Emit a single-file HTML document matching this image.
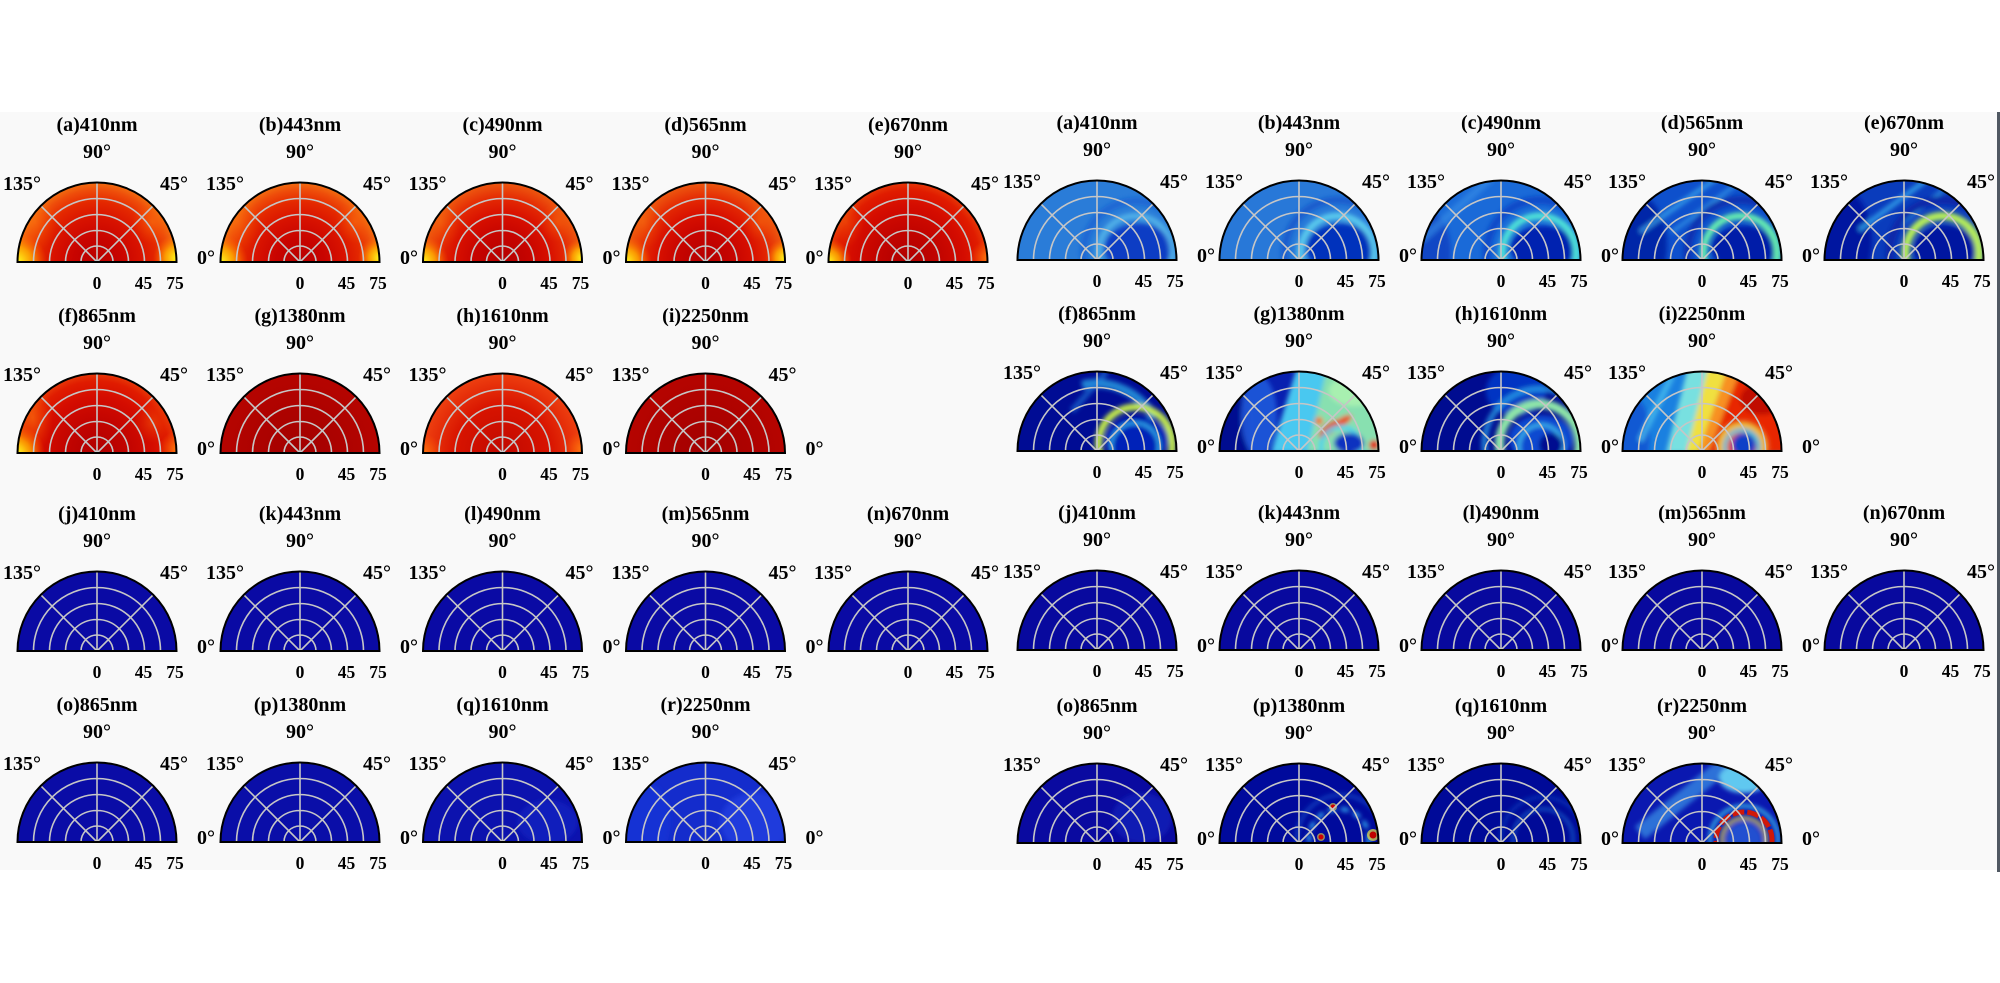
<!DOCTYPE html>
<html>
<head>
<meta charset="utf-8">
<style>
html,body{margin:0;padding:0;background:#fff}
svg{display:block}
text{font-family:"Liberation Serif","Times New Roman",serif;font-weight:bold;font-size:20px;text-anchor:middle;dominant-baseline:central;fill:#000}
.k{font-size:17.5px}
</style>
</head>
<body>
<svg width="2000" height="983" viewBox="0 0 2000 983" xmlns="http://www.w3.org/2000/svg">
<defs>
<path id="S" d="M-79.5,0A79.5,79.5 0 0 1 79.5,0Z"/>
<clipPath id="sc"><path d="M-79.5,0A79.5,79.5 0 0 1 79.5,0Z"/></clipPath>
<g id="G">
<path d="M-16,0A16,16 0 0 1 16,0M-31.5,0A31.5,31.5 0 0 1 31.5,0M-47.5,0A47.5,47.5 0 0 1 47.5,0M-63.5,0A63.5,63.5 0 0 1 63.5,0M0,0L0,-79.5M0,0L56.2,-56.2M0,0L-56.2,-56.2" fill="none" stroke="#c6c6c6" stroke-width="1.6"/>
<path d="M-79.5,0A79.5,79.5 0 0 1 79.5,0Z" fill="none" stroke="#000" stroke-width="2"/>
</g>
<filter id="bl" x="-30%" y="-30%" width="160%" height="160%"><feGaussianBlur stdDeviation="2.5"/></filter>
<radialGradient id="r1" gradientUnits="userSpaceOnUse" cx="0" cy="0" r="80">
<stop offset="0" stop-color="#b80000"/><stop offset=".3" stop-color="#c80400"/><stop offset=".55" stop-color="#d81200"/><stop offset=".75" stop-color="#e42800"/><stop offset=".9" stop-color="#ee4c0a"/><stop offset="1" stop-color="#f27010"/>
</radialGradient>
<radialGradient id="r2" gradientUnits="userSpaceOnUse" cx="0" cy="0" r="80">
<stop offset="0" stop-color="#b40000"/><stop offset=".35" stop-color="#c60400"/><stop offset=".6" stop-color="#d81000"/><stop offset=".8" stop-color="#e42a04"/><stop offset="1" stop-color="#ee5a10"/>
</radialGradient>
<radialGradient id="r3" gradientUnits="userSpaceOnUse" cx="0" cy="0" r="80">
<stop offset="0" stop-color="#b00000"/><stop offset=".4" stop-color="#c20400"/><stop offset=".7" stop-color="#d40c00"/><stop offset=".9" stop-color="#e01c00"/><stop offset="1" stop-color="#e83a08"/>
</radialGradient>
<radialGradient id="r4" gradientUnits="userSpaceOnUse" cx="0" cy="0" r="80">
<stop offset="0" stop-color="#c00800"/><stop offset=".6" stop-color="#d81400"/><stop offset="1" stop-color="#ee4010"/>
</radialGradient>
<radialGradient id="rd" gradientUnits="userSpaceOnUse" cx="0" cy="0" r="80">
<stop offset="0" stop-color="#a20000"/><stop offset="1" stop-color="#b60400"/>
</radialGradient>
<radialGradient id="gy"><stop offset="0" stop-color="#ffff20"/><stop offset=".5" stop-color="#ffb000" stop-opacity=".8"/><stop offset="1" stop-color="#ff6000" stop-opacity="0"/></radialGradient>
<radialGradient id="go"><stop offset="0" stop-color="#ff8010" stop-opacity=".9"/><stop offset="1" stop-color="#ff6000" stop-opacity="0"/></radialGradient>
</defs>

<rect x="0" y="112" width="1997" height="758" fill="#f9f9f9"/>
<rect x="1997" y="112" width="3" height="760" fill="#505862"/>

<!-- ========== LEFT PANEL ========== -->
<g transform="translate(97,262)">
<g clip-path="url(#sc)"><use href="#S" fill="url(#r1)"/>
<circle cx="-80" cy="0" r="30" fill="url(#gy)"/><circle cx="80" cy="-4" r="24" fill="url(#gy)"/><ellipse cx="-62" cy="-40" rx="22" ry="30" fill="url(#go)" opacity=".5"/><ellipse cx="55" cy="-40" rx="20" ry="22" fill="url(#go)" opacity=".5"/></g>
<use href="#G"/>
<text y="-137">(a)410nm</text><text y="-110">90°</text><text x="-75" y="-78">135°</text><text x="77" y="-78">45°</text><text x="109" y="-4">0°</text><text class="k" y="21">0</text><text class="k" x="46.5" y="21">45</text><text class="k" x="78" y="21">75</text>
</g>
<g transform="translate(300,262)">
<g clip-path="url(#sc)"><use href="#S" fill="url(#r1)"/>
<circle cx="-80" cy="0" r="28" fill="url(#gy)"/><circle cx="80" cy="-4" r="22" fill="url(#gy)"/><ellipse cx="-62" cy="-40" rx="22" ry="30" fill="url(#go)" opacity=".45"/><ellipse cx="55" cy="-40" rx="20" ry="22" fill="url(#go)" opacity=".45"/></g>
<use href="#G"/>
<text y="-137">(b)443nm</text><text y="-110">90°</text><text x="-75" y="-78">135°</text><text x="77" y="-78">45°</text><text x="109" y="-4">0°</text><text class="k" y="21">0</text><text class="k" x="46.5" y="21">45</text><text class="k" x="78" y="21">75</text>
</g>
<g transform="translate(502.5,262)">
<g clip-path="url(#sc)"><use href="#S" fill="url(#r2)"/>
<circle cx="-80" cy="0" r="26" fill="url(#gy)"/><circle cx="80" cy="-4" r="20" fill="url(#gy)"/><ellipse cx="-62" cy="-40" rx="20" ry="28" fill="url(#go)" opacity=".4"/><ellipse cx="55" cy="-40" rx="18" ry="20" fill="url(#go)" opacity=".4"/></g>
<use href="#G"/>
<text y="-137">(c)490nm</text><text y="-110">90°</text><text x="-75" y="-78">135°</text><text x="77" y="-78">45°</text><text x="109" y="-4">0°</text><text class="k" y="21">0</text><text class="k" x="46.5" y="21">45</text><text class="k" x="78" y="21">75</text>
</g>
<g transform="translate(705.5,262)">
<g clip-path="url(#sc)"><use href="#S" fill="url(#r2)"/>
<circle cx="-80" cy="0" r="26" fill="url(#gy)"/><circle cx="80" cy="-4" r="20" fill="url(#gy)"/><ellipse cx="-62" cy="-40" rx="20" ry="28" fill="url(#go)" opacity=".4"/><ellipse cx="55" cy="-40" rx="18" ry="20" fill="url(#go)" opacity=".4"/></g>
<use href="#G"/>
<text y="-137">(d)565nm</text><text y="-110">90°</text><text x="-75" y="-78">135°</text><text x="77" y="-78">45°</text><text x="109" y="-4">0°</text><text class="k" y="21">0</text><text class="k" x="46.5" y="21">45</text><text class="k" x="78" y="21">75</text>
</g>
<g transform="translate(908,262)">
<g clip-path="url(#sc)"><use href="#S" fill="url(#r3)"/>
<circle cx="-80" cy="0" r="24" fill="url(#gy)"/><circle cx="80" cy="-4" r="18" fill="url(#go)"/><ellipse cx="-62" cy="-40" rx="18" ry="26" fill="url(#go)" opacity=".35"/></g>
<use href="#G"/>
<text y="-137">(e)670nm</text><text y="-110">90°</text><text x="-75" y="-78">135°</text><text x="77" y="-78">45°</text><text class="k" y="21">0</text><text class="k" x="46.5" y="21">45</text><text class="k" x="78" y="21">75</text>
</g>

<g transform="translate(97,453)">
<g clip-path="url(#sc)"><use href="#S" fill="url(#r3)"/>
<circle cx="-80" cy="0" r="28" fill="url(#gy)"/><circle cx="80" cy="-4" r="18" fill="url(#go)"/><ellipse cx="-64" cy="-35" rx="20" ry="34" fill="url(#go)" opacity=".6"/><ellipse cx="55" cy="-30" rx="18" ry="20" fill="url(#go)" opacity=".35"/></g>
<use href="#G"/>
<text y="-137">(f)865nm</text><text y="-110">90°</text><text x="-75" y="-78">135°</text><text x="77" y="-78">45°</text><text x="109" y="-4">0°</text><text class="k" y="21">0</text><text class="k" x="46.5" y="21">45</text><text class="k" x="78" y="21">75</text>
</g>
<g transform="translate(300,453)">
<g clip-path="url(#sc)"><use href="#S" fill="url(#rd)"/></g>
<use href="#G"/>
<text y="-137">(g)1380nm</text><text y="-110">90°</text><text x="-75" y="-78">135°</text><text x="77" y="-78">45°</text><text x="109" y="-4">0°</text><text class="k" y="21">0</text><text class="k" x="46.5" y="21">45</text><text class="k" x="78" y="21">75</text>
</g>
<g transform="translate(502.5,453)">
<g clip-path="url(#sc)"><use href="#S" fill="url(#r4)"/>
<circle cx="-80" cy="0" r="20" fill="url(#go)"/><circle cx="80" cy="-4" r="18" fill="url(#go)"/></g>
<use href="#G"/>
<text y="-137">(h)1610nm</text><text y="-110">90°</text><text x="-75" y="-78">135°</text><text x="77" y="-78">45°</text><text x="109" y="-4">0°</text><text class="k" y="21">0</text><text class="k" x="46.5" y="21">45</text><text class="k" x="78" y="21">75</text>
</g>
<g transform="translate(705.5,453)">
<g clip-path="url(#sc)"><use href="#S" fill="url(#rd)"/></g>
<use href="#G"/>
<text y="-137">(i)2250nm</text><text y="-110">90°</text><text x="-75" y="-78">135°</text><text x="77" y="-78">45°</text><text x="109" y="-4">0°</text><text class="k" y="21">0</text><text class="k" x="46.5" y="21">45</text><text class="k" x="78" y="21">75</text>
</g>

<g transform="translate(97,651)">
<use href="#S" fill="#0a0aa4"/><use href="#G"/>
<text y="-137">(j)410nm</text><text y="-110">90°</text><text x="-75" y="-78">135°</text><text x="77" y="-78">45°</text><text x="109" y="-4">0°</text><text class="k" y="21">0</text><text class="k" x="46.5" y="21">45</text><text class="k" x="78" y="21">75</text>
</g>
<g transform="translate(300,651)">
<use href="#S" fill="#0a0aa4"/><use href="#G"/>
<text y="-137">(k)443nm</text><text y="-110">90°</text><text x="-75" y="-78">135°</text><text x="77" y="-78">45°</text><text x="109" y="-4">0°</text><text class="k" y="21">0</text><text class="k" x="46.5" y="21">45</text><text class="k" x="78" y="21">75</text>
</g>
<g transform="translate(502.5,651)">
<use href="#S" fill="#0a0aa4"/><use href="#G"/>
<text y="-137">(l)490nm</text><text y="-110">90°</text><text x="-75" y="-78">135°</text><text x="77" y="-78">45°</text><text x="109" y="-4">0°</text><text class="k" y="21">0</text><text class="k" x="46.5" y="21">45</text><text class="k" x="78" y="21">75</text>
</g>
<g transform="translate(705.5,651)">
<use href="#S" fill="#0a0aa4"/><use href="#G"/>
<text y="-137">(m)565nm</text><text y="-110">90°</text><text x="-75" y="-78">135°</text><text x="77" y="-78">45°</text><text x="109" y="-4">0°</text><text class="k" y="21">0</text><text class="k" x="46.5" y="21">45</text><text class="k" x="78" y="21">75</text>
</g>
<g transform="translate(908,651)">
<use href="#S" fill="#0a0aa4"/><use href="#G"/>
<text y="-137">(n)670nm</text><text y="-110">90°</text><text x="-75" y="-78">135°</text><text x="77" y="-78">45°</text><text class="k" y="21">0</text><text class="k" x="46.5" y="21">45</text><text class="k" x="78" y="21">75</text>
</g>

<g transform="translate(97,842)">
<use href="#S" fill="#0a0ca6"/><use href="#G"/>
<text y="-137">(o)865nm</text><text y="-110">90°</text><text x="-75" y="-78">135°</text><text x="77" y="-78">45°</text><text x="109" y="-4">0°</text><text class="k" y="21">0</text><text class="k" x="46.5" y="21">45</text><text class="k" x="78" y="21">75</text>
</g>
<g transform="translate(300,842)">
<use href="#S" fill="#0a0ea8"/><use href="#G"/>
<text y="-137">(p)1380nm</text><text y="-110">90°</text><text x="-75" y="-78">135°</text><text x="77" y="-78">45°</text><text x="109" y="-4">0°</text><text class="k" y="21">0</text><text class="k" x="46.5" y="21">45</text><text class="k" x="78" y="21">75</text>
</g>
<g transform="translate(502.5,842)">
<g clip-path="url(#sc)"><use href="#S" fill="#0c12ae"/><g filter="url(#bl)"><ellipse cx="45" cy="-20" rx="30" ry="22" fill="#1424c4" opacity=".6"/></g></g>
<use href="#G"/>
<text y="-137">(q)1610nm</text><text y="-110">90°</text><text x="-75" y="-78">135°</text><text x="77" y="-78">45°</text><text x="109" y="-4">0°</text><text class="k" y="21">0</text><text class="k" x="46.5" y="21">45</text><text class="k" x="78" y="21">75</text>
</g>
<g transform="translate(705.5,842)">
<g clip-path="url(#sc)"><use href="#S" fill="#142ccc"/><g filter="url(#bl)"><ellipse cx="50" cy="-20" rx="35" ry="30" fill="#2444e6" opacity=".6"/><ellipse cx="-60" cy="-20" rx="25" ry="40" fill="#1a38dc" opacity=".5"/></g></g>
<use href="#G"/>
<text y="-137">(r)2250nm</text><text y="-110">90°</text><text x="-75" y="-78">135°</text><text x="77" y="-78">45°</text><text x="109" y="-4">0°</text><text class="k" y="21">0</text><text class="k" x="46.5" y="21">45</text><text class="k" x="78" y="21">75</text>
</g>

<!-- ========== RIGHT PANEL ========== -->
<g transform="translate(1097,260)">
<g clip-path="url(#sc)"><use href="#S" fill="#2a7cd8"/>
<g filter="url(#bl)">
<ellipse cx="42" cy="-12" rx="34" ry="24" fill="#0a3cc4"/>
<circle cx="38.5" cy="-7" r="52" fill="none" stroke="#1858d0" stroke-width="7" opacity=".6"/>
<circle cx="38.5" cy="-7" r="37" fill="none" stroke="#60c4ee" stroke-width="6" opacity=".75"/>
</g></g>
<use href="#G"/>
<text y="-137">(a)410nm</text><text y="-110">90°</text><text x="-75" y="-78">135°</text><text x="77" y="-78">45°</text><text x="109" y="-4">0°</text><text class="k" y="21">0</text><text class="k" x="46.5" y="21">45</text><text class="k" x="78" y="21">75</text>
</g>
<g transform="translate(1299,260)">
<g clip-path="url(#sc)"><use href="#S" fill="#2878d8"/>
<g filter="url(#bl)">
<ellipse cx="42" cy="-12" rx="34" ry="24" fill="#0430bc"/>
<circle cx="38.5" cy="-7" r="53" fill="none" stroke="#1450c8" stroke-width="7" opacity=".7"/>
<circle cx="38.5" cy="-7" r="37" fill="none" stroke="#60d4f0" stroke-width="7" opacity=".9"/>
</g></g>
<use href="#G"/>
<text y="-137">(b)443nm</text><text y="-110">90°</text><text x="-75" y="-78">135°</text><text x="77" y="-78">45°</text><text x="109" y="-4">0°</text><text class="k" y="21">0</text><text class="k" x="46.5" y="21">45</text><text class="k" x="78" y="21">75</text>
</g>
<g transform="translate(1501,260)">
<g clip-path="url(#sc)"><use href="#S" fill="#1a6ad8"/>
<g filter="url(#bl)">
<ellipse cx="-72" cy="-8" rx="22" ry="40" fill="#0a40c0" opacity=".8"/>
<line x1="-10" y1="-82" x2="-80" y2="-20" stroke="#3a90e8" stroke-width="8" opacity=".6"/>
<ellipse cx="42" cy="-12" rx="32" ry="22" fill="#0424b0"/>
<circle cx="38.5" cy="-7" r="53" fill="none" stroke="#0c48c8" stroke-width="8"/>
<circle cx="38.5" cy="-7" r="37" fill="none" stroke="#50e4d8" stroke-width="7"/>
</g></g>
<use href="#G"/>
<text y="-137">(c)490nm</text><text y="-110">90°</text><text x="-75" y="-78">135°</text><text x="77" y="-78">45°</text><text x="109" y="-4">0°</text><text class="k" y="21">0</text><text class="k" x="46.5" y="21">45</text><text class="k" x="78" y="21">75</text>
</g>
<g transform="translate(1702,260)">
<g clip-path="url(#sc)"><use href="#S" fill="#0e50cc"/>
<g filter="url(#bl)">
<ellipse cx="-65" cy="-15" rx="30" ry="50" fill="#0428a8"/>
<line x1="15" y1="-82" x2="-62" y2="-28" stroke="#40b0f0" stroke-width="5" opacity=".7"/>
<line x1="35" y1="-76" x2="-30" y2="-28" stroke="#40b0f0" stroke-width="4" opacity=".6"/>
<ellipse cx="42" cy="-12" rx="32" ry="22" fill="#001ca8"/>
<circle cx="38.5" cy="-7" r="53" fill="none" stroke="#0a30b0" stroke-width="8"/>
<circle cx="38.5" cy="-7" r="37" fill="none" stroke="#68f0b0" stroke-width="7"/>
</g></g>
<use href="#G"/>
<text y="-137">(d)565nm</text><text y="-110">90°</text><text x="-75" y="-78">135°</text><text x="77" y="-78">45°</text><text x="109" y="-4">0°</text><text class="k" y="21">0</text><text class="k" x="46.5" y="21">45</text><text class="k" x="78" y="21">75</text>
</g>
<g transform="translate(1904,260)">
<g clip-path="url(#sc)"><use href="#S" fill="#0a3cbc"/>
<g filter="url(#bl)">
<ellipse cx="-62" cy="-20" rx="30" ry="50" fill="#0018a0"/>
<line x1="25" y1="-82" x2="-45" y2="-30" stroke="#38b0f0" stroke-width="5" opacity=".8"/>
<line x1="45" y1="-75" x2="-10" y2="-30" stroke="#38b0f0" stroke-width="4" opacity=".6"/>
<ellipse cx="42" cy="-12" rx="32" ry="22" fill="#0018a0"/>
<circle cx="38.5" cy="-7" r="53" fill="none" stroke="#0828a8" stroke-width="8"/>
<circle cx="38.5" cy="-7" r="37" fill="none" stroke="#b8f058" stroke-width="8"/>
</g></g>
<use href="#G"/>
<text y="-137">(e)670nm</text><text y="-110">90°</text><text x="-75" y="-78">135°</text><text x="77" y="-78">45°</text><text class="k" y="21">0</text><text class="k" x="46.5" y="21">45</text><text class="k" x="78" y="21">75</text>
</g>

<g transform="translate(1097,451)">
<g clip-path="url(#sc)"><use href="#S" fill="#000c94"/>
<g filter="url(#bl)">
<path d="M-15,-66A66,66 0 0 1 57,-33" fill="none" stroke="#30b8f0" stroke-width="9" opacity=".7"/>
<line x1="10" y1="-80" x2="-25" y2="-40" stroke="#2080e0" stroke-width="6" opacity=".6"/>
<ellipse cx="40" cy="-12" rx="32" ry="22" fill="#0020b8"/>
<circle cx="38.5" cy="-7" r="37" fill="none" stroke="#c8f048" stroke-width="7"/>
<circle cx="38" cy="-4" r="24" fill="none" stroke="#30b0f0" stroke-width="3"/>
</g></g>
<use href="#G"/>
<text y="-137">(f)865nm</text><text y="-110">90°</text><text x="-75" y="-78">135°</text><text x="77" y="-78">45°</text><text x="109" y="-4">0°</text><text class="k" y="21">0</text><text class="k" x="46.5" y="21">45</text><text class="k" x="78" y="21">75</text>
</g>
<g transform="translate(1299,451)">
<g clip-path="url(#sc)"><use href="#S" fill="#0820b0"/>
<g filter="url(#bl)">
<ellipse cx="-72" cy="-20" rx="22" ry="60" fill="#000c90"/>
<ellipse cx="-40" cy="-35" rx="18" ry="40" fill="#2060e0" opacity=".8"/>
<polygon points="-28,2 8,2 28,-84 -2,-84" fill="#48c8f0"/>
<polygon points="8,2 84,2 84,-84 28,-84" fill="#88e0b0"/>
<ellipse cx="55" cy="-60" rx="25" ry="15" fill="#a8f0b0"/>
<ellipse cx="30" cy="-22" rx="13" ry="5" transform="rotate(-40 30 -22)" fill="#e04010"/>
<ellipse cx="44" cy="-30" rx="10" ry="4" transform="rotate(-30 44 -30)" fill="#e85020"/>
<circle cx="20" cy="-30" r="4" fill="#f07020"/>
<circle cx="42" cy="-4" r="20" fill="none" stroke="#40d0f0" stroke-width="4"/>
<ellipse cx="50" cy="-8" rx="15" ry="10" fill="#1030c0"/>
<circle cx="75" cy="-6" r="5" fill="#e02000"/>
</g></g>
<use href="#G"/>
<text y="-137">(g)1380nm</text><text y="-110">90°</text><text x="-75" y="-78">135°</text><text x="77" y="-78">45°</text><text x="109" y="-4">0°</text><text class="k" y="21">0</text><text class="k" x="46.5" y="21">45</text><text class="k" x="78" y="21">75</text>
</g>
<g transform="translate(1501,451)">
<g clip-path="url(#sc)"><use href="#S" fill="#000c90"/>
<g filter="url(#bl)">
<ellipse cx="15" cy="-60" rx="30" ry="25" fill="#0840d0" opacity=".8"/>
<ellipse cx="40" cy="-12" rx="32" ry="24" fill="#1048d0"/>
<circle cx="38.5" cy="-7" r="55" fill="none" stroke="#30b0f0" stroke-width="6" opacity=".7"/>
<circle cx="38.5" cy="-7" r="40" fill="none" stroke="#90e8a8" stroke-width="9"/>
<circle cx="40" cy="-4" r="22" fill="none" stroke="#40c0f0" stroke-width="3"/>
<circle cx="50" cy="-6" r="12" fill="#000c90"/>
</g></g>
<use href="#G"/>
<text y="-137">(h)1610nm</text><text y="-110">90°</text><text x="-75" y="-78">135°</text><text x="77" y="-78">45°</text><text x="109" y="-4">0°</text><text class="k" y="21">0</text><text class="k" x="46.5" y="21">45</text><text class="k" x="78" y="21">75</text>
</g>
<g transform="translate(1702,451)">
<g clip-path="url(#sc)"><use href="#S" fill="#1a80e0"/>
<g filter="url(#bl)">
<ellipse cx="-70" cy="-15" rx="18" ry="40" fill="#0c50d0" opacity=".8"/>
<line x1="-62" y1="-10" x2="-30" y2="-75" stroke="#50c8f0" stroke-width="6" opacity=".7"/>
<polygon points="-36,2 -16,2 6,-84 -14,-84" fill="#78e0e0"/>
<polygon points="-16,2 -4,2 26,-84 6,-84" fill="#f0e040"/>
<polygon points="-4,2 6,2 40,-84 26,-84" fill="#f89020"/>
<polygon points="6,2 84,2 84,-84 40,-84" fill="#e82800"/>
<ellipse cx="60" cy="-52" rx="22" ry="16" fill="#c01000"/>
<circle cx="40" cy="-4" r="28" fill="#e84818"/>
<circle cx="40" cy="-4" r="22" fill="none" stroke="#f0e040" stroke-width="3"/>
<circle cx="40" cy="-4" r="17" fill="none" stroke="#50d0e0" stroke-width="4"/>
<circle cx="42" cy="-6" r="12" fill="#1040c8"/>
</g></g>
<use href="#G"/>
<text y="-137">(i)2250nm</text><text y="-110">90°</text><text x="-75" y="-78">135°</text><text x="77" y="-78">45°</text><text x="109" y="-4">0°</text><text class="k" y="21">0</text><text class="k" x="46.5" y="21">45</text><text class="k" x="78" y="21">75</text>
</g>

<g transform="translate(1097,650)">
<use href="#S" fill="#08099e"/><use href="#G"/>
<text y="-137">(j)410nm</text><text y="-110">90°</text><text x="-75" y="-78">135°</text><text x="77" y="-78">45°</text><text x="109" y="-4">0°</text><text class="k" y="21">0</text><text class="k" x="46.5" y="21">45</text><text class="k" x="78" y="21">75</text>
</g>
<g transform="translate(1299,650)">
<use href="#S" fill="#08099e"/><use href="#G"/>
<text y="-137">(k)443nm</text><text y="-110">90°</text><text x="-75" y="-78">135°</text><text x="77" y="-78">45°</text><text x="109" y="-4">0°</text><text class="k" y="21">0</text><text class="k" x="46.5" y="21">45</text><text class="k" x="78" y="21">75</text>
</g>
<g transform="translate(1501,650)">
<use href="#S" fill="#08099e"/><use href="#G"/>
<text y="-137">(l)490nm</text><text y="-110">90°</text><text x="-75" y="-78">135°</text><text x="77" y="-78">45°</text><text x="109" y="-4">0°</text><text class="k" y="21">0</text><text class="k" x="46.5" y="21">45</text><text class="k" x="78" y="21">75</text>
</g>
<g transform="translate(1702,650)">
<use href="#S" fill="#08099e"/><use href="#G"/>
<text y="-137">(m)565nm</text><text y="-110">90°</text><text x="-75" y="-78">135°</text><text x="77" y="-78">45°</text><text x="109" y="-4">0°</text><text class="k" y="21">0</text><text class="k" x="46.5" y="21">45</text><text class="k" x="78" y="21">75</text>
</g>
<g transform="translate(1904,650)">
<use href="#S" fill="#08099e"/><use href="#G"/>
<text y="-137">(n)670nm</text><text y="-110">90°</text><text x="-75" y="-78">135°</text><text x="77" y="-78">45°</text><text class="k" y="21">0</text><text class="k" x="46.5" y="21">45</text><text class="k" x="78" y="21">75</text>
</g>

<g transform="translate(1097,843)">
<g clip-path="url(#sc)"><use href="#S" fill="#0a0aa0"/><g filter="url(#bl)"><ellipse cx="45" cy="-25" rx="30" ry="25" fill="#1424c0" opacity=".6"/></g></g>
<use href="#G"/>
<text y="-137">(o)865nm</text><text y="-110">90°</text><text x="-75" y="-78">135°</text><text x="77" y="-78">45°</text><text x="109" y="-4">0°</text><text class="k" y="21">0</text><text class="k" x="46.5" y="21">45</text><text class="k" x="78" y="21">75</text>
</g>
<g transform="translate(1299,843)">
<g clip-path="url(#sc)"><use href="#S" fill="#000a9c"/>
<g filter="url(#bl)">
<circle cx="42" cy="-4" r="44" fill="none" stroke="#2070e0" stroke-width="3" opacity=".6"/>
<circle cx="40" cy="-4" r="30" fill="none" stroke="#30a8f0" stroke-width="4" stroke-dasharray="8 5"/>
</g>
<circle cx="74" cy="-8" r="6" fill="#f0e040" opacity=".7"/><circle cx="74" cy="-8" r="3.5" fill="#c00000"/>
<circle cx="22" cy="-6" r="4" fill="#f0e040" opacity=".6"/><circle cx="22" cy="-6" r="2.5" fill="#d00000"/>
<circle cx="34" cy="-36" r="4" fill="#f0e040" opacity=".6"/><circle cx="34" cy="-36" r="2.5" fill="#d00000"/>
</g>
<use href="#G"/>
<text y="-137">(p)1380nm</text><text y="-110">90°</text><text x="-75" y="-78">135°</text><text x="77" y="-78">45°</text><text x="109" y="-4">0°</text><text class="k" y="21">0</text><text class="k" x="46.5" y="21">45</text><text class="k" x="78" y="21">75</text>
</g>
<g transform="translate(1501,843)">
<g clip-path="url(#sc)"><use href="#S" fill="#000a98"/>
<g filter="url(#bl)">
<circle cx="42" cy="-4" r="30" fill="none" stroke="#2a90e8" stroke-width="3" opacity=".6"/>
<circle cx="42" cy="-4" r="42" fill="none" stroke="#1c60d8" stroke-width="3" opacity=".5"/>
</g></g>
<use href="#G"/>
<text y="-137">(q)1610nm</text><text y="-110">90°</text><text x="-75" y="-78">135°</text><text x="77" y="-78">45°</text><text x="109" y="-4">0°</text><text class="k" y="21">0</text><text class="k" x="46.5" y="21">45</text><text class="k" x="78" y="21">75</text>
</g>
<g transform="translate(1702,843)">
<g clip-path="url(#sc)"><use href="#S" fill="#0a18b0"/>
<g filter="url(#bl)">
<line x1="30" y1="-84" x2="-62" y2="-10" stroke="#3c98e8" stroke-width="16" opacity=".7"/>
<ellipse cx="42" cy="-65" rx="25" ry="15" fill="#60c8f0"/>
<circle cx="42" cy="-3" r="34" fill="none" stroke="#40d0f0" stroke-width="3"/>
<circle cx="42" cy="-3" r="18" fill="#2050d0"/>
<circle cx="42" cy="-3" r="22" fill="none" stroke="#f0e040" stroke-width="3"/>
</g>
<circle cx="42" cy="-3" r="28" fill="none" stroke="#d01808" stroke-width="5" stroke-dasharray="12 3"/>
</g>
<use href="#G"/>
<text y="-137">(r)2250nm</text><text y="-110">90°</text><text x="-75" y="-78">135°</text><text x="77" y="-78">45°</text><text x="109" y="-4">0°</text><text class="k" y="21">0</text><text class="k" x="46.5" y="21">45</text><text class="k" x="78" y="21">75</text>
</g>
</svg>
</body>
</html>
